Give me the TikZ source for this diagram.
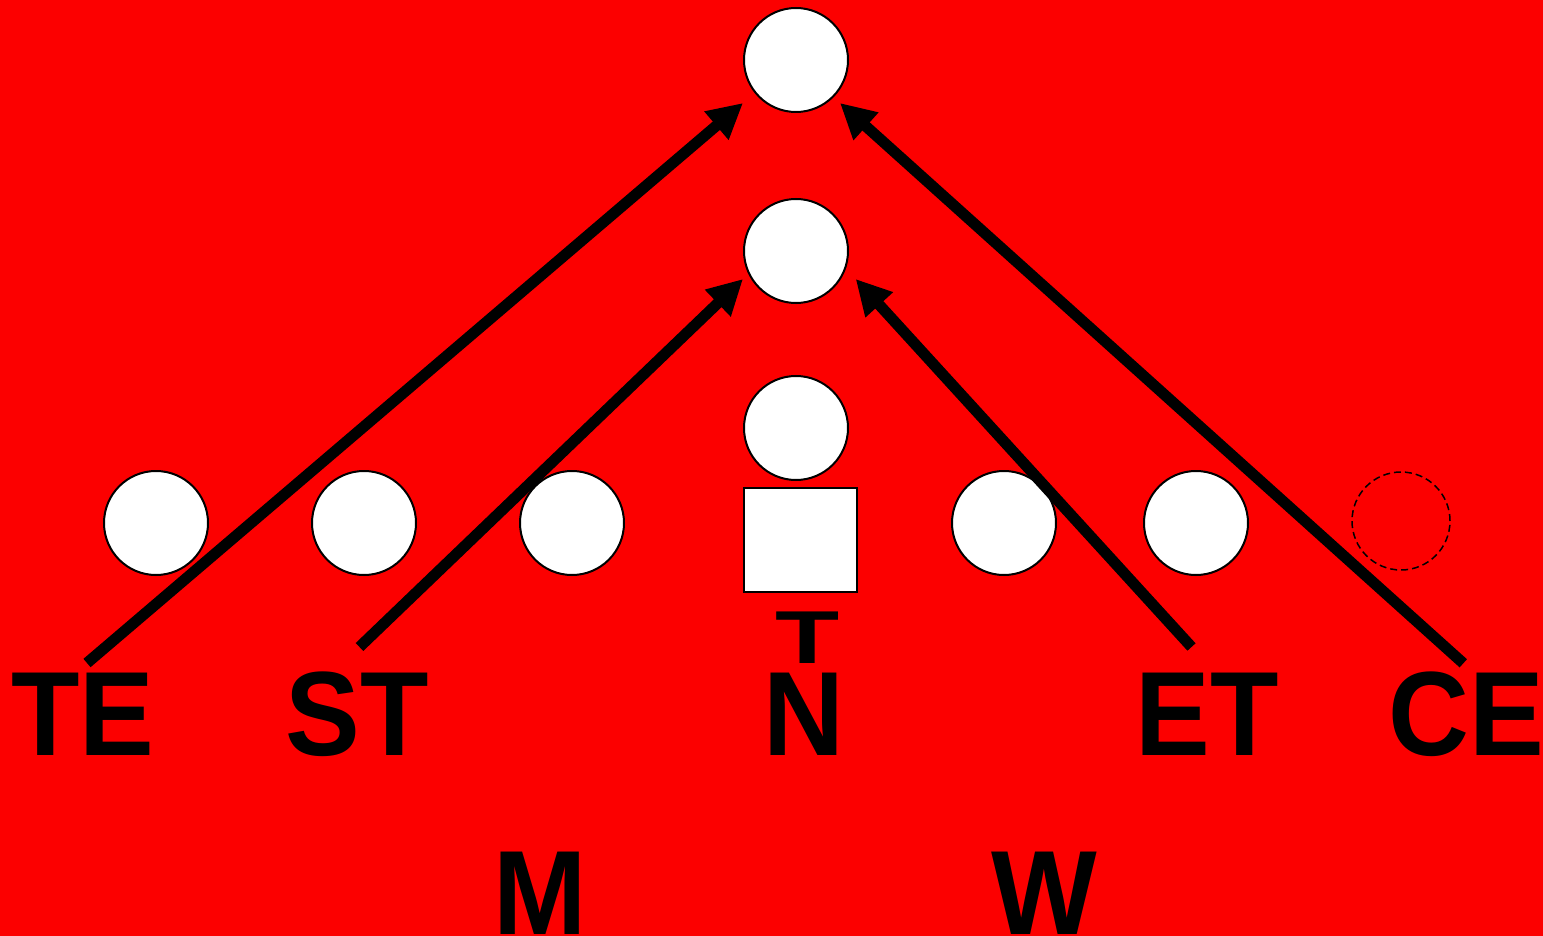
\documentclass[tikz,border=0pt]{standalone}
\usepackage{fontspec}
\setmainfont{Liberation Sans}
\usetikzlibrary{arrows.meta}
\definecolor{bgred}{RGB}{252,0,0}
\begin{document}
\begin{tikzpicture}[x=1pt,y=-1pt,
  player/.style={circle,draw=black,fill=white,line width=2pt,minimum size=104pt,inner sep=0pt,outer sep=0pt},
  ghost/.style={circle,draw=black,line width=1.5pt,dash pattern=on 7pt off 4pt,minimum size=98pt,inner sep=0pt,outer sep=0pt},
  centerbox/.style={rectangle,draw=black,fill=white,line width=2pt,minimum width=113pt,minimum height=104pt,inner sep=0pt,outer sep=0pt},
  lbl/.style={inner sep=0pt,anchor=base,yscale=1.07,font=\fontsize{112}{112}\selectfont\bfseries},
  smalllbl/.style={inner sep=0pt,anchor=base,xscale=1.4,font=\fontsize{75}{75}\selectfont\bfseries},
  route/.style={line width=11pt,-{Triangle[length=35pt,width=35pt]}}]
\fill[bgred] (0,0) rectangle (1543,936);
\useasboundingbox (0,0) rectangle (1543,936);
% players
\node[player] (deep) at (796,60) {};
\node[player] (mid) at (796,251) {};
\node[player] (qb) at (796,428) {};
\node[centerbox] (ctr) at (800.5,539.5) {};
\node[player] (p1) at (156,523) {};
\node[player] (p2) at (364,523) {};
\node[player] (p3) at (572,523) {};
\node[player] (p4) at (1004,523) {};
\node[player] (p5) at (1196,523) {};
\node[ghost] (p6) at (1401,521) {};
% labels
\node[lbl] (te) at (83,755) {TE};
\node[lbl] (st) at (357.5,755) {ST};
\node[lbl] (n) at (803.5,755) {N};
\node[lbl] (et) at (1207,755) {ET};
\node[lbl] (ce) at (1466,755) {CE};
\node[lbl] (m) at (540.5,934) {M};
\node[lbl] (w) at (1044,934) {W};
\node[smalllbl] (t) at (808,663) {T};
% route ends
\coordinate (s1) at (87,663);
\coordinate (s2) at (359.5,647);
\coordinate (s3) at (1191.5,647);
\coordinate (s4) at (1463.3,663.3);
\coordinate (e1) at (743,103);
\coordinate (e2) at (743,279);
\coordinate (e3) at (855.7,279);
\coordinate (e4) at (840,103);
\draw[route] (s1) -- (e1);
\draw[route] (s2) -- (e2);
\draw[route] (s3) -- (e3);
\draw[route] (s4) -- (e4);
\end{tikzpicture}
\end{document}
